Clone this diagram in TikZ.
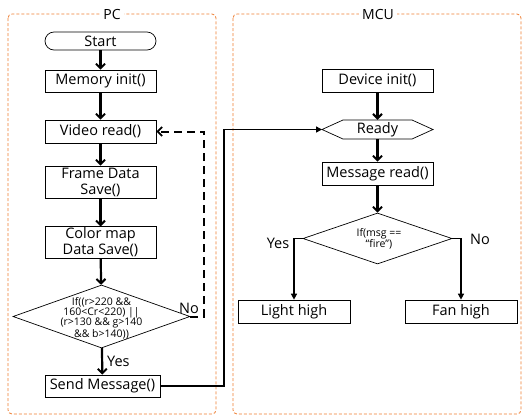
\documentclass[tikz,border=0pt]{standalone}
\usepackage{fontspec}
\setmainfont{Open Sans}
\usetikzlibrary{arrows.meta,shapes.geometric}
\definecolor{frameorange}{RGB}{237,125,49}
\begin{document}
\begin{tikzpicture}[x=1pt,y=-1pt,
  container/.style={draw=frameorange,dashed,dash pattern=on 3pt off 2pt,line width=0.8pt,rounded corners=4pt},
  title/.style={fill=white,inner sep=3pt,font=\fontsize{14}{16}\selectfont},
  proc/.style={draw,line width=0.7pt,inner sep=1pt,align=center,font=\fontsize{14.5}{16}\selectfont},
  dia/.style={draw,diamond,line width=0.7pt,inner sep=0pt},
  small/.style={align=center,inner sep=0pt,font=\fontsize{10.5}{10.2}\selectfont},
  flow/.style={line width=2.2pt,-{Straight Barb[length=4.5pt,width=9pt,line width=2pt]}},
  thinflow/.style={line width=1.4pt,-{Triangle[length=6pt,width=6pt]}},
  lbl/.style={inner sep=0pt,font=\fontsize{14.5}{16}\selectfont}]
\useasboundingbox (0,0) rectangle (523,416);
% containers
\draw[container] (8,14) rectangle (216,414);
\draw[container] (233,14) rectangle (521,414);
\node[title] (pct) at (112,14) {PC};
\node[title] (mcut) at (378,14) {MCU};
% PC column
\node[proc,minimum width=111pt,minimum height=18pt,rounded corners=9pt] (start) at (100.5,41) {Start};
\node[proc,minimum width=111pt,minimum height=22pt] (mem) at (100.5,81) {Memory init()};
\node[proc,minimum width=111pt,minimum height=23pt] (video) at (100.5,131.5) {Video read()};
\node[proc,minimum width=111pt,minimum height=32pt] (frame) at (100.5,182) {Frame Data\\Save()};
\node[proc,minimum width=111pt,minimum height=31pt] (color) at (100.5,242.5) {Color map\\Data Save()};
\node[dia,minimum width=177pt,minimum height=63pt] (cond) at (101.5,316.5) {};
\node[small] (condt) at (101.5,318) {If((r>220 \&\&\\160<Cr<220) ||\\(r>130 \&\& g>140\\\&\& b>140))};
\node[proc,minimum width=115pt,minimum height=22pt] (send) at (102.5,386) {Send Message()};
\draw[flow] (start) -- (mem);
\draw[flow] (mem) -- (video);
\draw[flow] (video) -- (frame);
\draw[flow] (frame) -- (color);
\draw[flow] (color) -- (cond);
\draw[flow] (cond) -- (send);
\node[lbl,anchor=west] (yes1) at (107,361) {Yes};
\node[lbl,anchor=south east] (no1) at (199,314) {No};
\coordinate (dr) at (204,316.5);
\coordinate (du) at (204,131.5);
\draw[line width=2pt,dash pattern=on 8pt off 5pt,-{Straight Barb[length=4.5pt,width=9pt,line width=1.8pt]}]
  (cond.east) -- (dr) -- (du) -- (video.east);
% MCU column
\node[proc,minimum width=111pt,minimum height=23pt] (dev) at (377.5,80.5) {Device init()};
\coordinate (rw) at (322,129.5);
\coordinate (re) at (433,129.5);
\draw[line width=0.7pt] (rw) -- (343,120) -- (412,120) -- (re) -- (412,139) -- (343,139) -- cycle;
\node[inner sep=0pt,minimum width=69pt,minimum height=19pt,font=\fontsize{14.5}{16}\selectfont] (ready) at (377.5,129.5) {Ready};
\node[proc,minimum width=111pt,minimum height=23pt] (msg) at (377.5,173.5) {Message read()};
\node[dia,minimum width=149pt,minimum height=51pt] (cond2) at (377.5,238.5) {};
\node[small] (cond2t) at (379,239) {If(msg ==\\``fire'')};
\node[proc,minimum width=112pt,minimum height=23pt] (light) at (294,311.5) {Light high};
\node[proc,minimum width=112pt,minimum height=23pt] (fan) at (461,311.5) {Fan high};
\draw[flow] (dev) -- (ready);
\draw[flow] (ready) -- (msg);
\draw[flow] (msg) -- (cond2);
\draw[thinflow] (cond2.west) -| (light.north);
\draw[thinflow] (cond2.east) -| (fan.north);
\node[lbl] (yes2) at (278,243) {Yes};
\node[lbl] (no2) at (480,239) {No};
% message link
\coordinate (s1) at (224,386);
\coordinate (s2) at (224,129.5);
\draw[line width=1.5pt,-{Triangle[length=6pt,width=6pt]}] (send.east) -- (s1) -- (s2) -- (rw);
\end{tikzpicture}
\end{document}
